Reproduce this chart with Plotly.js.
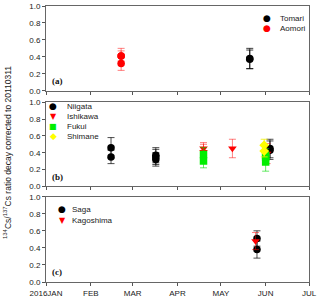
<!DOCTYPE html>
<html><head><meta charset="utf-8">
<script src="https://cdn.plot.ly/plotly-3.0.1.min.js"></script>
<style>html,body{margin:0;padding:0;background:#fff}</style>
</head><body>
<div id="chart" style="width:320px;height:304px"></div>
<script>
// Panel (a)
const tomariX = ['2016-05-21','2016-05-21'];
const tomariY = [0.38, 0.37];
const tomariErr = [0.12, 0.11];
const aomoriX = ['2016-02-22','2016-02-22','2016-02-22'];
const aomoriY = [0.41, 0.41, 0.32];
const aomoriErr = [0.09, 0.06, 0.08];
// Panel (b)
const niigataX = ['2016-02-15','2016-02-15','2016-03-17','2016-03-17','2016-03-17','2016-06-04','2016-06-04'];
const niigataY = [0.46, 0.35, 0.37, 0.32, 0.35, 0.45, 0.43];
const niigataErr = [0.12, 0.08, 0.09, 0.08, 0.09, 0.11, 0.11];
const ishikawaX = ['2016-04-19','2016-04-19','2016-05-09','2016-06-02'];
const ishikawaY = [0.45, 0.41, 0.45, 0.39];
const ishikawaErr = [0.07, 0.09, 0.11, 0.12];
const fukuiX = ['2016-04-19','2016-04-19','2016-06-01','2016-06-01','2016-06-01'];
const fukuiY = [0.30, 0.38, 0.37, 0.29, 0.35];
const fukuiErr = [0.08, 0.08, 0.08, 0.11, 0.08];
const shimaneX = ['2016-05-31','2016-05-31'];
const shimaneY = [0.49, 0.42];
const shimaneErr = [0.07, 0.07];
// Panel (c)
const sagaX = ['2016-05-26','2016-05-26'];
const sagaY = [0.51, 0.38];
const sagaErr = [0.09, 0.10];
const kagoshimaX = ['2016-05-25'];
const kagoshimaY = [0.48];
const kagoshimaErr = [0.10];

const tickDates = ['2016-01-01','2016-02-01','2016-03-01','2016-04-01','2016-05-01','2016-06-01','2016-07-01'];
const tickLabels = ['2016JAN','FEB','MAR','APR','MAY','JUN','JUL'];
const yTicks = [0, 0.2, 0.4, 0.6, 0.8, 1.0];
const yTickLabels = ['0.0','0.2','0.4','0.6','0.8','1.0'];

// legend entries: [name, glyph, colour]
const legendA = [['Tomari','●','#000000'],['Aomori','●','#ff0000']];
const legendB = [['Niigata','●','#000000'],['Ishikawa','▼','#ff0000'],['Fukui','■','#00ee00'],['Shimane','◆','#ffff00']];
const legendC = [['Saga','●','#000000'],['Kagoshima','▼','#ff0000']];

const M = {l:46, r:11, t:6, b:22};
const W = 320, H = 304;
const PW = W - M.l - M.r, PH = H - M.t - M.b;
const px = v => (v - M.l) / PW;
const py = v => (H - M.b - v) / PH;

function tr(name, x, y, err, sym, col, ecol, xa, ya) {
  return {type:'scatter', mode:'markers', name:name, x:x, y:y,
    xaxis:xa, yaxis:ya, showlegend:false,
    marker:{symbol:sym, color:col, size:7.5, line:{width:0}},
    error_y:{type:'data', array:err, visible:true, color:ecol, thickness:1, width:3.5}};
}
const data = [
  tr('Tomari', tomariX, tomariY, tomariErr, 'circle', '#000000', 'rgba(0,0,0,0.75)', 'x', 'y'),
  tr('Aomori', aomoriX, aomoriY, aomoriErr, 'circle', '#ff0000', 'rgba(255,0,0,0.5)', 'x', 'y'),
  tr('Niigata', niigataX, niigataY, niigataErr, 'circle', '#000000', 'rgba(0,0,0,0.7)', 'x2', 'y2'),
  tr('Ishikawa', ishikawaX, ishikawaY, ishikawaErr, 'triangle-down', '#ff0000', 'rgba(255,0,0,0.5)', 'x2', 'y2'),
  tr('Fukui', fukuiX, fukuiY, fukuiErr, 'square', '#00ee00', 'rgba(0,220,0,0.6)', 'x2', 'y2'),
  tr('Shimane', shimaneX, shimaneY, shimaneErr, 'diamond', '#ffff00', 'rgba(240,240,0,0.8)', 'x2', 'y2'),
  tr('Saga', sagaX, sagaY, sagaErr, 'circle', '#000000', 'rgba(0,0,0,0.7)', 'x3', 'y3'),
  tr('Kagoshima', kagoshimaX, kagoshimaY, kagoshimaErr, 'triangle-down', '#ff0000', 'rgba(255,0,0,0.5)', 'x3', 'y3')
];

const tickFont = {family:'Liberation Sans, Arial, sans-serif', size:8, color:'#222'};
function xax(anchor, labels) {
  return {type:'date', range:['2016-01-01','2016-07-01'], domain:[0,1], anchor:anchor,
    tickmode:'array', tickvals:tickDates, ticktext:tickLabels, showticklabels:labels,
    ticks:'outside', ticklen:3, tickcolor:'#555', showgrid:false, zeroline:false,
    showline:true, linecolor:'#666', linewidth:1, mirror:true, tickfont:tickFont};
}
function yax(anchor, dom) {
  return {range:[0,1], domain:dom, anchor:anchor, tickmode:'array', tickvals:yTicks, ticktext:yTickLabels,
    ticks:'outside', ticklen:3, tickcolor:'#555', showgrid:false, zeroline:false,
    showline:true, linecolor:'#666', linewidth:1, mirror:true, tickfont:tickFont};
}

const annotations = [];
function addLegend(entries, mx, tx, y0, dy) {
  entries.forEach((e, i) => {
    const y = y0 + i * dy;
    annotations.push({text:e[1], xref:'paper', yref:'paper', x:px(mx), y:py(y), xanchor:'center', yanchor:'middle',
      showarrow:false, font:{family:'DejaVu Sans, sans-serif', size:(e[1]==='▼'||e[1]==='■')?8:9, color:e[2]}});
    annotations.push({text:e[0], xref:'paper', yref:'paper', x:px(tx), y:py(y), xanchor:'left', yanchor:'middle',
      showarrow:false, font:{family:'Liberation Sans, Arial, sans-serif', size:8, color:'#222'}});
  });
}
addLegend(legendA, 266.5, 277.5, 18.3, 9.7);
addLegend(legendB, 53.3, 64.5, 106, 10);
addLegend(legendC, 62.3, 69.5, 209.3, 10.7);

const serif = {family:'Liberation Serif, Times New Roman, serif', size:9, color:'#111'};
annotations.push(
  {text:'<b>(a)</b>', xref:'paper', yref:'paper', x:px(50), y:py(81), xanchor:'left', yanchor:'middle', showarrow:false, font:serif},
  {text:'<b>(b)</b>', xref:'paper', yref:'paper', x:px(50), y:py(177), xanchor:'left', yanchor:'middle', showarrow:false, font:serif},
  {text:'<b>(c)</b>', xref:'paper', yref:'paper', x:px(50), y:py(272), xanchor:'left', yanchor:'middle', showarrow:false, font:serif},
  {text:'<sup>134</sup>Cs/<sup>137</sup>Cs ratio decay corrected to 20110311', xref:'paper', yref:'paper', x:px(8), y:py(153), xanchor:'center', yanchor:'middle', textangle:-90, showarrow:false, font:{family:'Liberation Sans, Arial, sans-serif', size:8.5, color:'#222'}}
);

const layout = {
  width:W, height:H, margin:M,
  paper_bgcolor:'#fff', plot_bgcolor:'#fff', showlegend:false,
  xaxis: xax('y', false), yaxis: yax('x', [py(90.7), 1.0]),
  xaxis2: xax('y2', false), yaxis2: yax('x2', [py(186.3), py(102.3)]),
  xaxis3: xax('y3', true), yaxis3: yax('x3', [0, py(196.7)]),
  annotations: annotations
};
Plotly.newPlot('chart', data, layout, {staticPlot:true, displayModeBar:false});
</script>
</body></html>
